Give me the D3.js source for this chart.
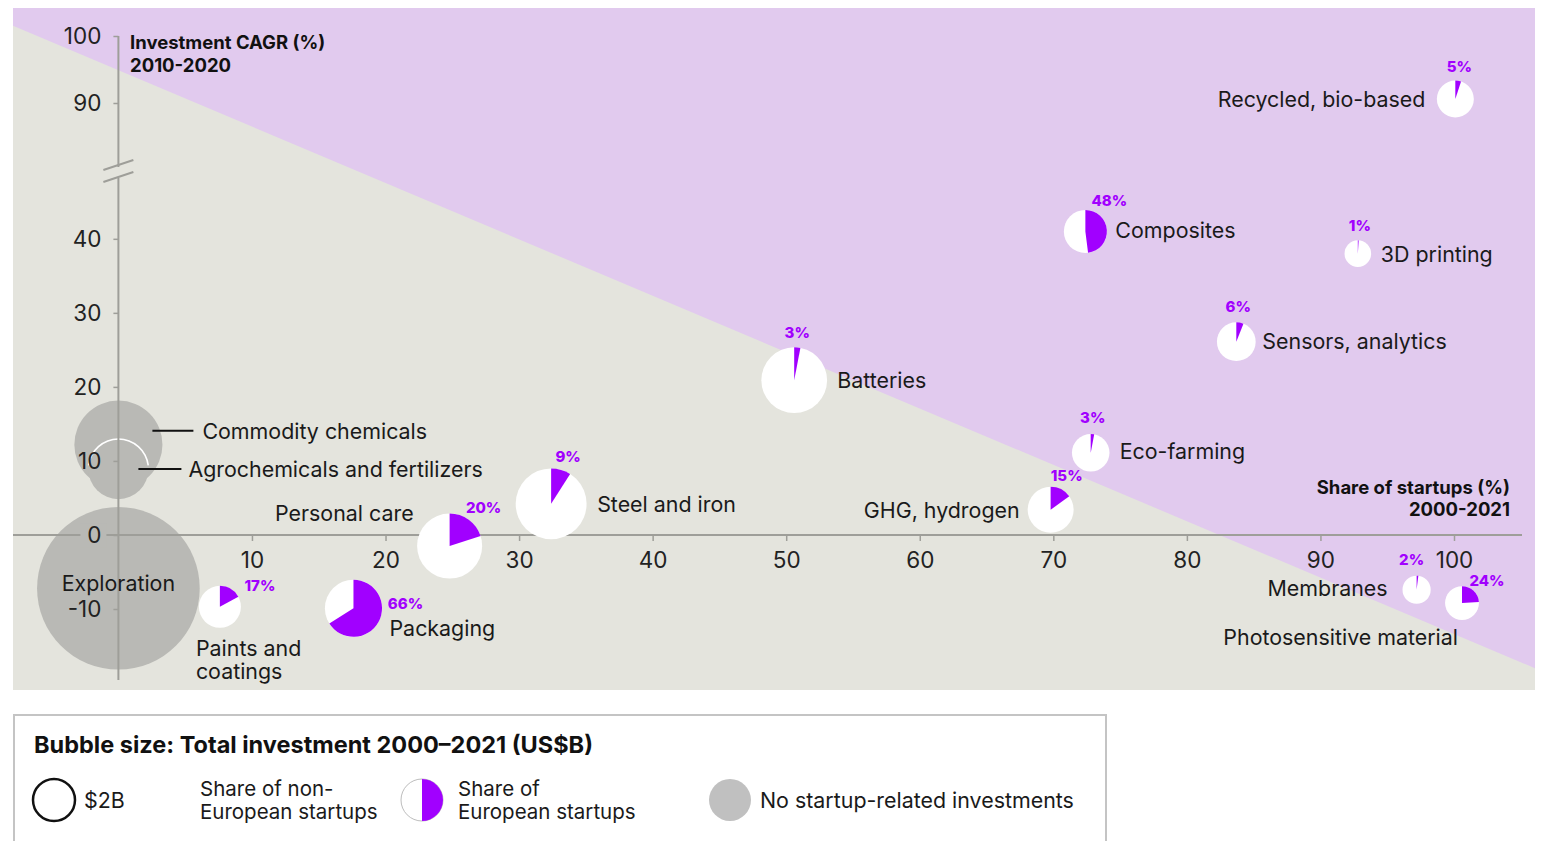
<!DOCTYPE html>
<html>
<head>
<meta charset="utf-8">
<script src="https://cdn.jsdelivr.net/npm/d3@7"></script>
<style>
body { margin: 0; background: #fff; }
text { font-family: Inter, "Noto Sans", sans-serif; }
</style>
</head>
<body>
<svg id="chart" width="1543" height="841"></svg>
<script>
'use strict'

// data
var sectors = ["Recycled, bio-based", "Composites", "3D printing", "Sensors, analytics", "Batteries",
    "Eco-farming", "GHG, hydrogen", "Steel and iron", "Personal care", "Paints and coatings",
    "Packaging", "Membranes", "Photosensitive material",
    "Exploration", "Commodity chemicals", "Agrochemicals and fertilizers"];
var startupShare = [100.1, 72.4, 92.8, 83.7, 50.6, 72.8, 69.8, 32.4, 24.8, 7.6, 17.6, 97.2, 100.6, 0, 0, 0];
var cagr = [90.6, 41, 38, 26.1, 20.9, 11.1, 3.4, 4.2, -1.5, -9.7, -9.9, -7.4, -9.2, -7.2, 12.2, 8.9];
var investment = [1.55, 2.1, 0.8, 1.7, 4.9, 1.6, 2.4, 5.7, 4.8, 2.0, 3.7, 0.9, 1.3, 30, 8.8, 4.1];
var europeShare = [5, 48, 1, 6, 3, 3, 15, 9, 20, 17, 66, 2, 24, null, null, null];

var xTicks = [10, 20, 30, 40, 50, 60, 70, 80, 90, 100];
var yTicks = [-10, 0, 10, 20, 30, 40, 90, 100];
var legendSize = 2; // $2B

// label placement (offsets from bubble centre)
var labelLayout = {
    "Recycled, bio-based": {dx: -30, dy: 0, anchor: "end", pdx: 4, pdy: -32},
    "Composites": {dx: 30, dy: -1, anchor: "start", pdx: 24, pdy: -31},
    "3D printing": {dx: 23, dy: 0, anchor: "start", pdx: 2, pdy: -28},
    "Sensors, analytics": {dx: 26, dy: -1, anchor: "start", pdx: 2, pdy: -35},
    "Batteries": {dx: 43, dy: 0, anchor: "start", pdx: 3, pdy: -48},
    "Eco-farming": {dx: 29, dy: -2, anchor: "start", pdx: 2, pdy: -35},
    "GHG, hydrogen": {dx: -31, dy: 0, anchor: "end", pdx: 16, pdy: -34},
    "Steel and iron": {dx: 46, dy: 0, anchor: "start", pdx: 17, pdy: -47},
    "Personal care": {dx: -36, dy: -33, anchor: "end", pdx: 34, pdy: -39},
    "Paints and coatings": {dx: -24, dy: 41, anchor: "start", pdx: 40, pdy: -21, lines: ["Paints and", "coatings"]},
    "Packaging": {dx: 36, dy: 20, anchor: "start", pdx: 52, pdy: -5},
    "Membranes": {dx: -29, dy: -2, anchor: "end", pdx: -5, pdy: -30},
    "Photosensitive material": {dx: -4, dy: 34, anchor: "end", pdx: 25, pdy: -23},
    "Exploration": {dx: 0, dy: -5, anchor: "middle"},
    "Commodity chemicals": {dx: 84, dy: -14, anchor: "start", leader: [34, 75]},
    "Agrochemicals and fertilizers": {dx: 70, dy: 0, anchor: "start", leader: [20, 63]}
};

var purple = "#a100ff";
var bgPurple = "#e1caee";
var bgGrey = "#e4e4dd";
var bubbleGrey = "#b9b9b5";
var axisGrey = "#9e9e99";
var labelSize = 21.4;

var svg = d3.select("#chart");

// plot area
var plot = {left: 13, top: 8, right: 1535, bottom: 690};

var x = d3.scaleLinear().domain([0, 100]).range([118.4, 1454]);
// broken y axis: linear below the break, compressed across it
var y = d3.scaleLinear().domain([-10, 47, 80, 100]).range([609, 187, 170, 36]);
var r = d3.scaleSqrt().domain([0, legendSize]).range([0, 21]);

// background: purple with grey lower-left triangle
svg.append("rect")
    .attr("x", plot.left).attr("y", plot.top)
    .attr("width", plot.right - plot.left).attr("height", plot.bottom - plot.top)
    .attr("fill", bgPurple);

var pw = plot.right - plot.left, ph = plot.bottom - plot.top;
svg.append("polygon")
    .attr("points", [
        [plot.left, plot.top + ph * 0.026],
        [plot.right, plot.top + ph * 0.968],
        [plot.right, plot.bottom],
        [plot.left, plot.bottom]
    ].map(function(p){ return p.join(","); }).join(" "))
    .attr("fill", bgGrey);

var data = sectors.map(function(name, i){
    return {name: name, sx: startupShare[i], cy: cagr[i], inv: investment[i], eu: europeShare[i]};
});

// grey bubbles (no startup-related investments)
var greyData = data.filter(function(d){ return d.eu === null; });
svg.append("g").selectAll("circle")
    .data(greyData)
    .enter().append("circle")
    .attr("cx", function(d){ return x(d.sx); })
    .attr("cy", function(d){ return y(d.cy); })
    .attr("r", function(d){ return r(d.inv); })
    .attr("fill", bubbleGrey);

// thin white rim where agrochemicals sits inside commodity chemicals
greyData.filter(function(d){ return d.name === "Agrochemicals and fertilizers"; }).forEach(function(d){
    svg.append("path")
        .attr("transform", "translate(" + x(d.sx) + "," + y(d.cy) + ")")
        .attr("d", d3.arc()({innerRadius: r(d.inv) - 0.8, outerRadius: r(d.inv) + 0.8,
            startAngle: -1.45, endAngle: 1.45}))
        .attr("fill", "#fff");
});

// axis lines
svg.append("line")
    .attr("x1", plot.left).attr("x2", 1522)
    .attr("y1", y(0)).attr("y2", y(0))
    .attr("stroke", axisGrey).attr("stroke-width", 2);
svg.append("line")
    .attr("x1", x(0)).attr("x2", x(0))
    .attr("y1", y(100)).attr("y2", 167)
    .attr("stroke", axisGrey).attr("stroke-width", 2);
svg.append("line")
    .attr("x1", x(0)).attr("x2", x(0))
    .attr("y1", 178).attr("y2", 680)
    .attr("stroke", axisGrey).attr("stroke-width", 2);
// break marks
[0, 12].forEach(function(off){
    svg.append("line")
        .attr("x1", x(0) - 15).attr("y1", 170 + off)
        .attr("x2", x(0) + 15).attr("y2", 160 + off)
        .attr("stroke", axisGrey).attr("stroke-width", 2);
});

// ticks
var yAxisG = svg.append("g").attr("transform", "translate(" + x(0) + ",0)")
    .call(d3.axisLeft(y).tickValues(yTicks).tickSize(5).tickPadding(12).tickFormat(String));
yAxisG.select(".domain").remove();
yAxisG.selectAll(".tick line").attr("stroke", axisGrey).attr("stroke-width", 1.5);
yAxisG.selectAll(".tick text").attr("font-size", 22.5).attr("fill", "#222");
// "0" label sits on the exploration bubble
yAxisG.selectAll(".tick").filter(function(d){ return d === 0; })
    .insert("rect", "text")
    .attr("x", -38).attr("y", -12).attr("width", 26).attr("height", 24)
    .attr("fill", bubbleGrey);

var xAxisG = svg.append("g").attr("transform", "translate(0," + y(0) + ")")
    .call(d3.axisBottom(x).tickValues(xTicks).tickSize(6).tickPadding(11));
xAxisG.select(".domain").remove();
xAxisG.selectAll(".tick line").attr("stroke", axisGrey).attr("stroke-width", 1.5);
xAxisG.selectAll(".tick text").attr("font-size", 22.5).attr("fill", "#222");

// axis titles
var yTitle = svg.append("text").attr("x", 130).attr("y", 49)
    .attr("font-size", 18.5).attr("font-weight", 700).attr("fill", "#111");
yTitle.append("tspan").attr("x", 130).text("Investment CAGR (%)");
yTitle.append("tspan").attr("x", 130).attr("dy", 23).text("2010-2020");

var xTitle = svg.append("text").attr("x", 1510).attr("y", 494).attr("text-anchor", "end")
    .attr("font-size", 18.5).attr("font-weight", 700).attr("fill", "#111");
xTitle.append("tspan").attr("x", 1510).text("Share of startups (%)");
xTitle.append("tspan").attr("x", 1510).attr("dy", 22).text("2000-2021");

// pies
var arc = d3.arc().innerRadius(0);
var pieData = data.filter(function(d){ return d.eu !== null; });
var pies = svg.append("g").selectAll("g")
    .data(pieData)
    .enter().append("g")
    .attr("transform", function(d){ return "translate(" + x(d.sx) + "," + y(d.cy) + ")"; });

pies.append("circle")
    .attr("r", function(d){ return r(d.inv); })
    .attr("fill", "#fff");
pies.append("path")
    .attr("d", function(d){
        return arc({outerRadius: r(d.inv), startAngle: 0, endAngle: 2 * Math.PI * d.eu / 100});
    })
    .attr("fill", purple);

// percentage labels
pies.append("text")
    .attr("x", function(d){ return labelLayout[d.name].pdx; })
    .attr("y", function(d){ return labelLayout[d.name].pdy; })
    .attr("text-anchor", "middle")
    .attr("dominant-baseline", "central")
    .attr("font-size", 15).attr("font-weight", 800)
    .attr("fill", purple)
    .text(function(d){ return d.eu + "%"; });

// sector labels
data.forEach(function(d){
    var lay = labelLayout[d.name];
    var cx = x(d.sx), cy = y(d.cy);
    if (lay.leader) {
        svg.append("line")
            .attr("x1", cx + lay.leader[0]).attr("x2", cx + lay.leader[1])
            .attr("y1", cy + lay.dy).attr("y2", cy + lay.dy)
            .attr("stroke", "#111").attr("stroke-width", 2);
    }
    var lines = lay.lines || [d.name];
    lines.forEach(function(l, i){
        svg.append("text")
            .attr("x", cx + lay.dx).attr("y", cy + lay.dy + i * 23)
            .attr("text-anchor", lay.anchor)
            .attr("dominant-baseline", "central")
            .attr("font-size", labelSize).attr("fill", "#1a1a1a")
            .text(l);
    });
});

// legend
var lg = svg.append("g");
lg.append("rect")
    .attr("x", 14).attr("y", 715).attr("width", 1092).attr("height", 150)
    .attr("fill", "none").attr("stroke", "#c4c4c4").attr("stroke-width", 2);
lg.append("text").attr("x", 34).attr("y", 744)
    .attr("dominant-baseline", "central")
    .attr("font-size", 23.5).attr("font-weight", 700).attr("fill", "#111")
    .text("Bubble size: Total investment 2000\u20132021 (US$B)");

var ly = 800;
lg.append("circle").attr("cx", 54).attr("cy", ly).attr("r", r(legendSize))
    .attr("fill", "#fff").attr("stroke", "#111").attr("stroke-width", 2.5);
lg.append("text").attr("x", 84).attr("y", ly).attr("dominant-baseline", "central")
    .attr("font-size", labelSize).attr("fill", "#1a1a1a").text("$" + legendSize + "B");

function twoLine(xp, a, b){
    [a, b].forEach(function(s, i){
        lg.append("text").attr("x", xp).attr("y", ly - 11.5 + i * 23)
            .attr("dominant-baseline", "central")
            .attr("font-size", 20.5).attr("fill", "#1a1a1a")
            .text(s);
    });
}
twoLine(200, "Share of non-", "European startups");

lg.append("circle").attr("cx", 422).attr("cy", ly).attr("r", r(legendSize))
    .attr("fill", "#fff").attr("stroke", "#bdbdbd").attr("stroke-width", 1);
lg.append("path").attr("transform", "translate(422," + ly + ")")
    .attr("d", arc({outerRadius: r(legendSize), startAngle: 0, endAngle: Math.PI}))
    .attr("fill", purple);
twoLine(458, "Share of", "European startups");

lg.append("circle").attr("cx", 730).attr("cy", ly).attr("r", r(legendSize))
    .attr("fill", "#c0c0c0");
lg.append("text").attr("x", 760).attr("y", ly).attr("dominant-baseline", "central")
    .attr("font-size", labelSize).attr("fill", "#1a1a1a").text("No startup-related investments");
</script>
</body>
</html>
